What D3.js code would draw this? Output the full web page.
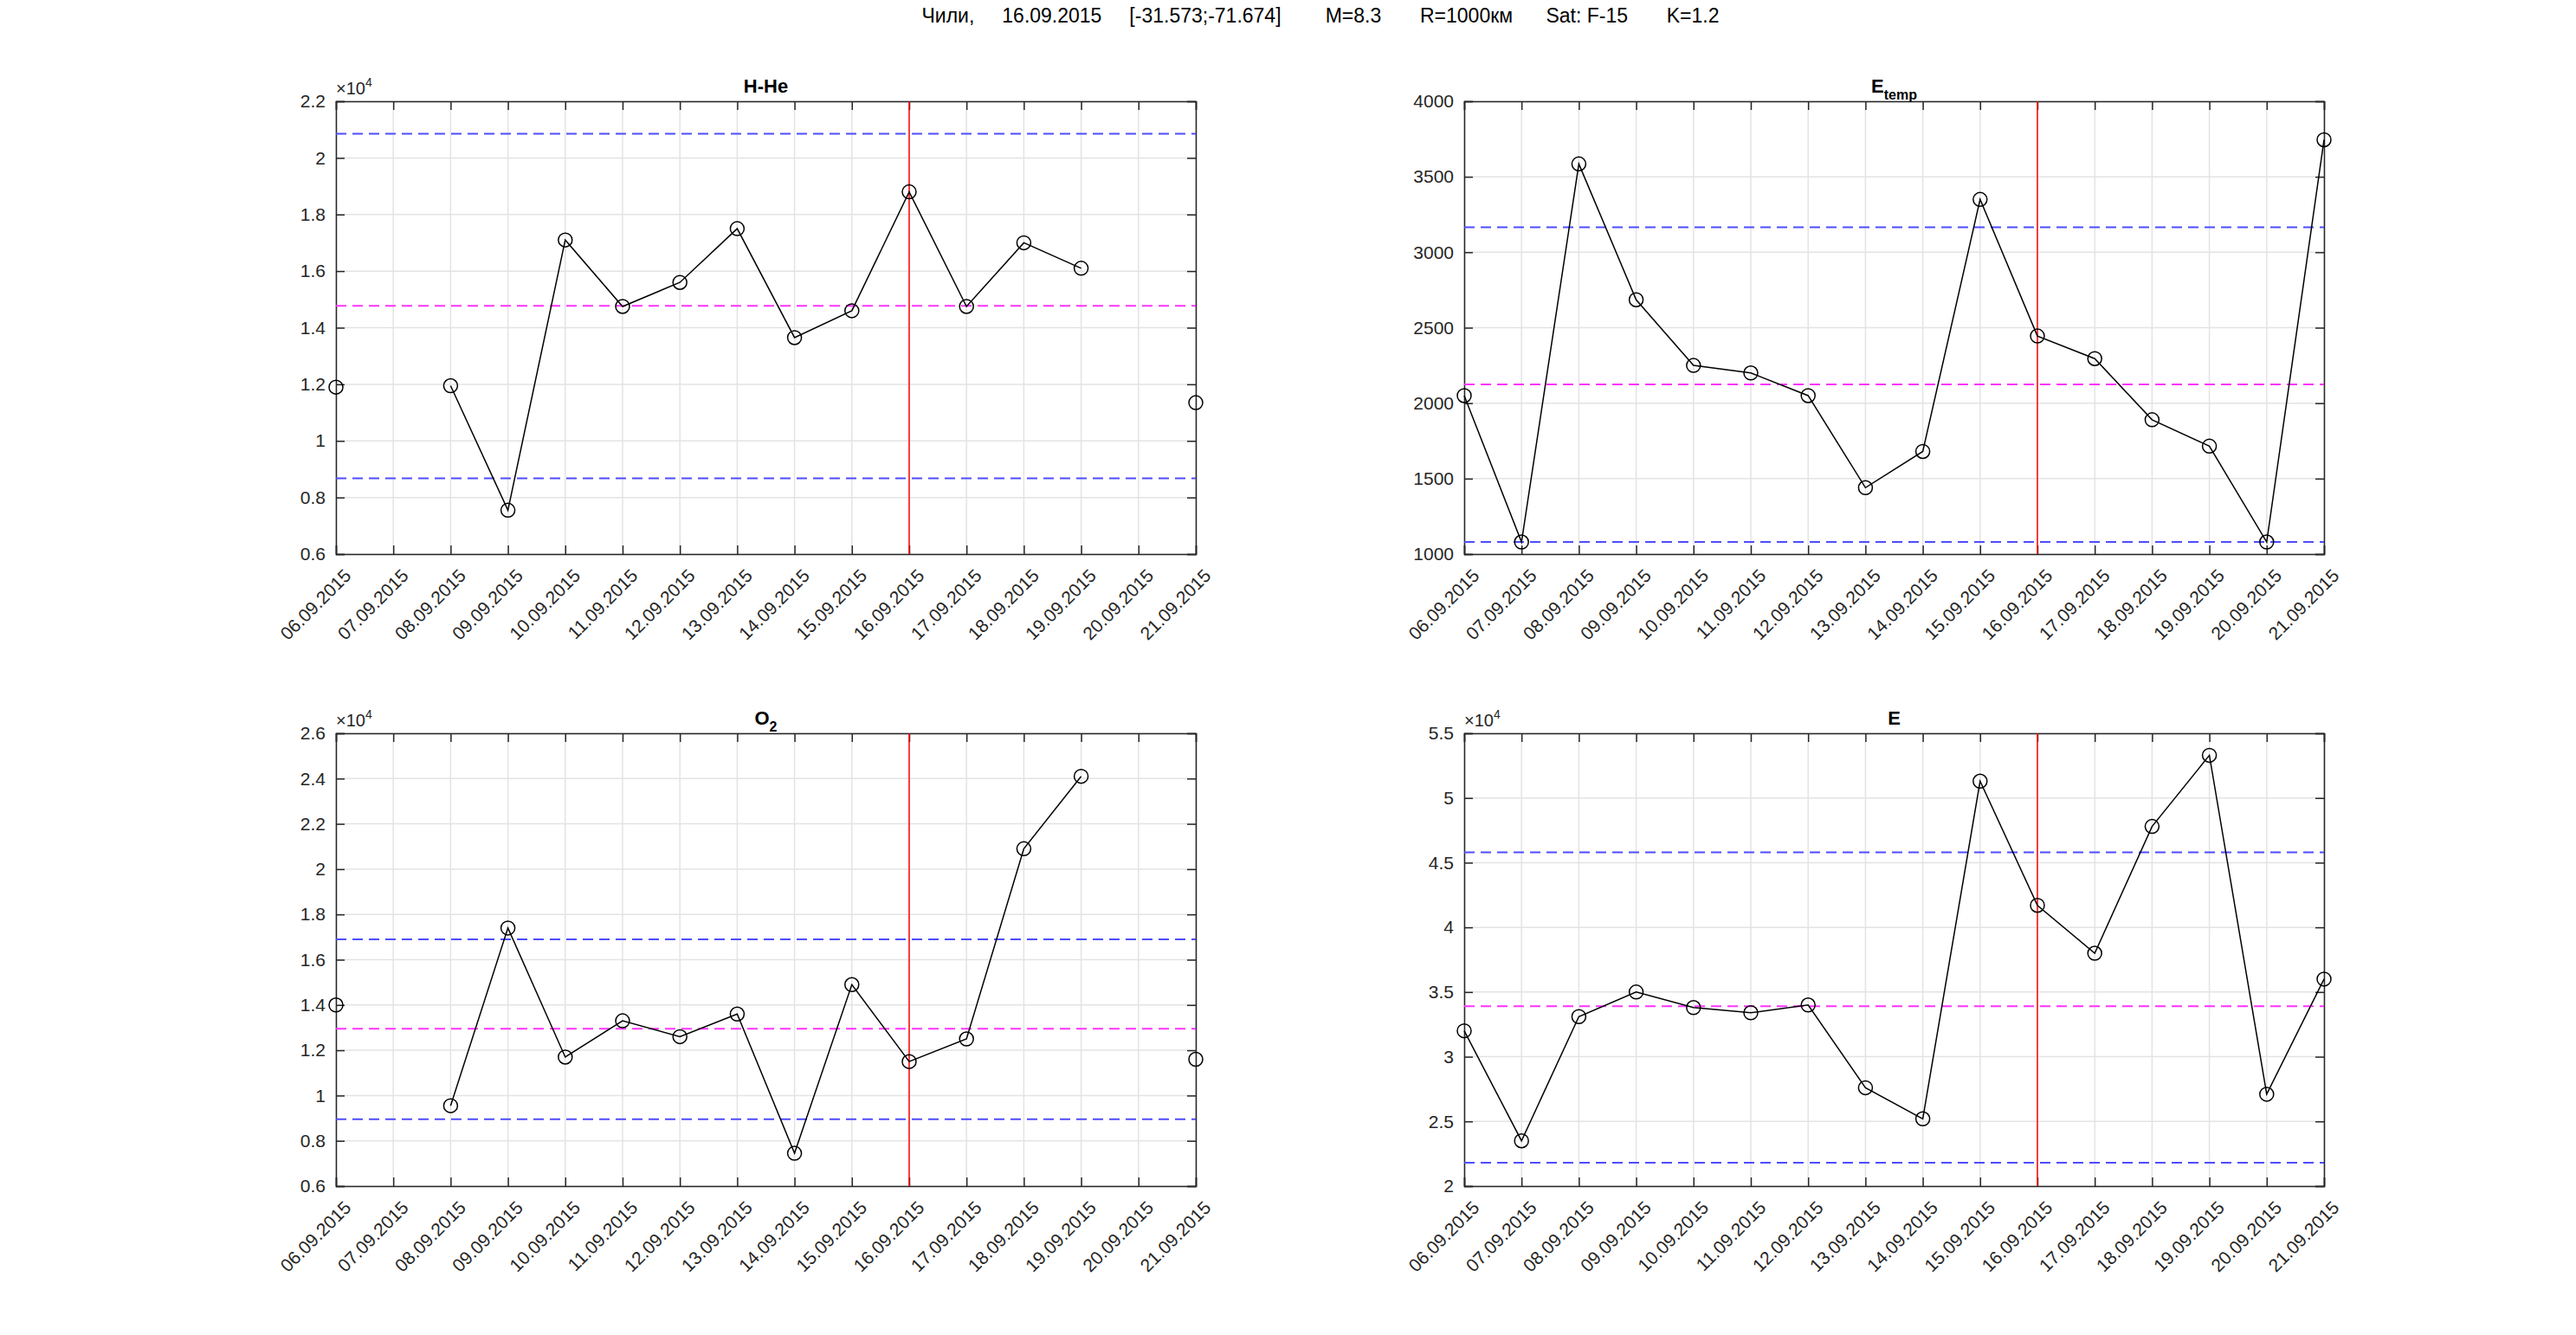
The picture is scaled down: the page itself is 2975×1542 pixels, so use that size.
<!DOCTYPE html>
<html><head><meta charset="utf-8">
<script src="https://cdn.jsdelivr.net/npm/d3@7"></script>
<style>body{margin:0;background:#fff}text{font-family:"Liberation Sans",Arial,sans-serif}</style>
</head><body><div id="chart"></div>
<script>
var dates = ['06.09.2015','07.09.2015','08.09.2015','09.09.2015','10.09.2015','11.09.2015','12.09.2015','13.09.2015',
  '14.09.2015','15.09.2015','16.09.2015','17.09.2015','18.09.2015','19.09.2015','20.09.2015','21.09.2015'];
var eventDate = '16.09.2015';
var hheValues = [1.19, null, 1.195, 0.755, 1.71, 1.475, 1.56, 1.75, 1.365, 1.46, 1.88, 1.475, 1.70, 1.61, null, 1.135];
var hheLevels = [2.085, 1.477, 0.868];
var etempValues = [2050, 1080, 3585, 2685, 2250, 2200, 2050, 1440, 1680, 3350, 2445, 2295, 1890, 1715, 1080, 3745];
var etempLevels = [3165, 2125, 1080];
var o2Values = [1.40, null, 0.955, 1.74, 1.17, 1.33, 1.26, 1.36, 0.745, 1.49, 1.15, 1.25, 2.09, 2.41, null, 1.16];
var o2Levels = [1.69, 1.295, 0.895];
var eValues = [3.2, 2.35, 3.31, 3.5, 3.38, 3.34, 3.4, 2.76, 2.52, 5.13, 4.17, 3.8, 4.78, 5.33, 2.71, 3.6];
var eLevels = [4.58, 3.39, 2.18];

var W = 2975, H = 1542;
var svg = d3.select('#chart').append('svg').attr('width', W).attr('height', H);

svg.append('text').attr('x', 1525).attr('y', 26).attr('text-anchor', 'middle')
  .style('font-size', '23px').attr('xml:space', 'preserve')
  .text('Чили,     16.09.2015     [-31.573;-71.674]        M=8.3       R=1000км      Sat: F-15       K=1.2');

var panels = [
  {title: 'H-He', sub: null, vals: hheValues, levels: hheLevels, dom: [0.6, 2.2], step: 0.2, exp: true, x: 388, y: 117},
  {title: 'E', sub: 'temp', vals: etempValues, levels: etempLevels, dom: [1000, 4000], step: 500, exp: false, x: 1691, y: 117},
  {title: 'O', sub: '2', vals: o2Values, levels: o2Levels, dom: [0.6, 2.6], step: 0.2, exp: true, x: 388, y: 847},
  {title: 'E', sub: null, vals: eValues, levels: eLevels, dom: [2, 5.5], step: 0.5, exp: true, x: 1691, y: 847}
];
var pw = 993, ph = 523;

panels.forEach(function(p) {
  var g = svg.append('g').attr('transform', 'translate(' + p.x + ',' + p.y + ')');
  var x = d3.scalePoint().domain(dates).range([0, pw]);
  var y = d3.scaleLinear().domain(p.dom).range([ph, 0]);
  var yt = d3.range(p.dom[0], p.dom[1] + p.step / 2, p.step).map(function(v) { return +v.toFixed(2); });

  // grid
  g.selectAll('.gx').data(dates).enter().append('line')
    .attr('x1', function(d) { return x(d); }).attr('x2', function(d) { return x(d); })
    .attr('y1', 0).attr('y2', ph).attr('stroke', '#e3e3e3').attr('stroke-width', 1.5);
  g.selectAll('.gy').data(yt).enter().append('line')
    .attr('y1', function(d) { return y(d); }).attr('y2', function(d) { return y(d); })
    .attr('x1', 0).attr('x2', pw).attr('stroke', '#e3e3e3').attr('stroke-width', 1.5);

  // axes
  var fmt = function(d) { return p.exp ? d3.format('~g')(d) : d; };
  var ya = g.append('g').call(d3.axisLeft(y).tickValues(yt).tickSize(-10).tickPadding(12).tickFormat(fmt));
  g.append('g').attr('transform', 'translate(' + pw + ',0)').call(d3.axisRight(y).tickValues(yt).tickSize(-10).tickFormat(''));
  var xa = g.append('g').attr('transform', 'translate(0,' + ph + ')').call(d3.axisBottom(x).tickSize(-10).tickPadding(10));
  g.append('g').call(d3.axisTop(x).tickSize(-10).tickFormat(''));
  g.selectAll('.domain').attr('stroke', '#262626').attr('stroke-width', 1.5);
  g.selectAll('.tick line').attr('stroke', '#262626').attr('stroke-width', 1.5);
  ya.selectAll('text').style('font-size', '21px').attr('fill', '#262626');
  xa.selectAll('text').style('font-size', '21px').attr('fill', '#262626')
    .attr('text-anchor', 'end').attr('dy', '0.35em')
    .attr('transform', 'translate(6,14) rotate(-45)');

  if (p.exp) {
    var ex = g.append('text').attr('x', 0).attr('y', -8).style('font-size', '20px').attr('fill', '#262626');
    ex.append('tspan').text('×10');
    ex.append('tspan').attr('dy', -9).style('font-size', '14px').text('4');
  }

  var t = g.append('text').attr('x', pw / 2).attr('y', -10).attr('text-anchor', 'middle')
    .style('font-size', '22px').style('font-weight', 'bold');
  t.append('tspan').text(p.title);
  if (p.sub) t.append('tspan').attr('dy', 8).style('font-size', '16px').text(p.sub);

  // reference levels
  var cols = ['#4d4dff', '#ff33ff', '#4d4dff'];
  p.levels.forEach(function(v, i) {
    g.append('line').attr('x1', 0).attr('x2', pw).attr('y1', y(v)).attr('y2', y(v))
      .attr('stroke', cols[i]).attr('stroke-width', 2).attr('stroke-dasharray', '12,7');
  });

  // event line
  g.append('line').attr('x1', x(eventDate)).attr('x2', x(eventDate)).attr('y1', 0).attr('y2', ph)
    .attr('stroke', '#ff0000').attr('stroke-width', 1.5);

  var pts = dates.map(function(d, i) { return {d: d, v: p.vals[i]}; });
  var line = d3.line().defined(function(d) { return d.v !== null; })
    .x(function(d) { return x(d.d); }).y(function(d) { return y(d.v); });
  g.append('path').datum(pts).attr('d', line).attr('fill', 'none').attr('stroke', '#000').attr('stroke-width', 1.5);
  g.selectAll('.pt').data(pts.filter(function(d) { return d.v !== null; })).enter().append('circle')
    .attr('cx', function(d) { return x(d.d); }).attr('cy', function(d) { return y(d.v); })
    .attr('r', 8).attr('fill', 'none').attr('stroke', '#000').attr('stroke-width', 1.5);
});
</script></body></html>
